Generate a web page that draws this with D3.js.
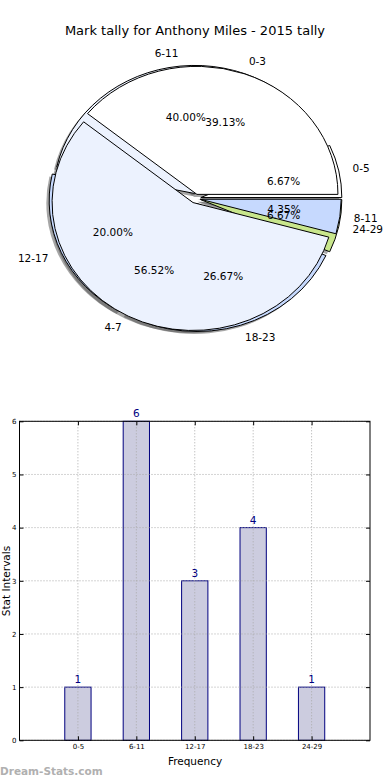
<!DOCTYPE html>
<html><head><meta charset="utf-8">
<script src="https://cdn.jsdelivr.net/npm/d3@7"></script>
<style>
html,body{margin:0;padding:0;background:#fff;}
svg{display:block;font-family:"DejaVu Sans",sans-serif;}
</style></head>
<body>
<svg id="chart" width="390" height="780"></svg>
<script>
// ---- data ----
const title = "Mark tally for Anthony Miles - 2015 tally";
const statCategories = ["0-5", "6-11", "12-17", "18-23", "24-29"];
const statCounts = [1, 6, 3, 4, 1];
const statColors = ["#ffffff", "#ecf2fe", "#c6d9fe", "#c6d9fe", "#c8e68c"];
const markCategories = ["0-3", "4-7", "8-11"];
const markCounts = [9, 13, 1];
const markColors = ["#ffffff", "#ecf2fe", "#c6d9fe"];
const yTicks = [0, 1, 2, 3, 4, 5, 6];

const svg = d3.select("#chart");

svg.append("text").attr("x", 195).attr("y", 35).attr("text-anchor", "middle")
  .attr("font-size", 13).text(title);

// ---- pies ----
const cx = 195.3, cy = 198.6, rx = 141, ry = 128;
const pieGen = d3.pie().sort(null).startAngle(Math.PI / 2).endAngle(Math.PI / 2 - 2 * Math.PI);
const arc = d3.arc().innerRadius(0).outerRadius(1);

function buildPie(cats, vals, cols, explode) {
  const arcs = pieGen(vals);
  const total = d3.sum(vals);
  return arcs.map((a, i) => {
    const s = Math.min(a.startAngle, a.endAngle), e = Math.max(a.startAngle, a.endAngle);
    const mid = (s + e) / 2;
    const ox = explode * Math.sin(mid), oy = -explode * Math.cos(mid);
    return {cat: cats[i], val: vals[i], col: cols[i], s, e, mid, ox, oy, pct: (100 * vals[i] / total).toFixed(2) + "%"};
  });
}
const pie1 = buildPie(statCategories, statCounts, statColors, 0.04);
const pie2 = buildPie(markCategories, markCounts, markColors, 0.035);

const pg = svg.append("g").attr("transform", `translate(${cx},${cy}) scale(${rx},${ry})`);
// shadows first (lower zorder)
[pie1, pie2].forEach(p => {
  pg.selectAll(null).data(p).enter().append("path")
    .attr("d", d => arc({startAngle: d.s, endAngle: d.e}))
    .attr("transform", d => `translate(${d.ox - 0.02},${d.oy + 0.02})`)
    .attr("fill", "rgb(77,77,77)").attr("fill-opacity", 0.5);
});
[pie1, pie2].forEach(p => {
  pg.selectAll(null).data(p).enter().append("path")
    .attr("d", d => arc({startAngle: d.s, endAngle: d.e}))
    .attr("transform", d => `translate(${d.ox},${d.oy})`)
    .attr("fill", d => d.col).attr("stroke", "#000").attr("stroke-width", 1)
    .attr("stroke-linejoin", "miter")
    .attr("vector-effect", "non-scaling-stroke");
});
// texts
[pie1, pie2].forEach(p => {
  p.forEach(d => {
    const ux = Math.sin(d.mid), uy = -Math.cos(d.mid);
    const lx = cx + rx * (d.ox + 1.1 * ux), ly = cy + ry * (d.oy + 1.1 * uy);
    svg.append("text").attr("x", lx).attr("y", ly).attr("dy", "0.35em")
      .attr("text-anchor", ux > 0 ? "start" : "end").attr("font-size", 10.5).text(d.cat);
    const px = cx + rx * (d.ox + 0.6 * ux), py = cy + ry * (d.oy + 0.6 * uy);
    svg.append("text").attr("x", px).attr("y", py).attr("dy", "0.35em")
      .attr("text-anchor", "middle").attr("font-size", 10.5).text(d.pct);
  });
});

// ---- bar chart ----
const L = 19.5, R = 370, T = 421.3, B = 740.3;
const x = d3.scaleLinear().domain([-1, 5]).range([L, R]);
const y = d3.scaleLinear().domain([0, 6]).range([B, T]);
const bw = 0.45;
const bg = svg.append("g");

bg.selectAll(null).data(statCounts).enter().append("rect")
  .attr("x", (d, i) => x(i - bw / 2)).attr("width", x(bw) - x(0))
  .attr("y", d => y(d)).attr("height", d => B - y(d))
  .attr("fill", "#ccccdf").attr("stroke", "#00007f").attr("stroke-width", 1);

// grid
bg.selectAll(null).data(yTicks).enter().append("line")
  .attr("x1", L).attr("x2", R).attr("y1", d => y(d)).attr("y2", d => y(d))
  .attr("stroke", "#aaa").attr("stroke-dasharray", "1,2");
bg.selectAll(null).data(statCategories).enter().append("line")
  .attr("x1", (d, i) => x(i)).attr("x2", (d, i) => x(i)).attr("y1", T).attr("y2", B)
  .attr("stroke", "#aaa").attr("stroke-dasharray", "1,2");

// axes
const yAxisL = d3.axisLeft(y).tickValues(yTicks).tickFormat(d3.format("d")).tickSizeInner(-4).tickSizeOuter(0).tickPadding(3);
const yAxisR = d3.axisRight(y).tickValues(yTicks).tickSizeInner(-4).tickSizeOuter(0).tickFormat("");
const xAxisB = d3.axisBottom(x).tickValues(d3.range(statCategories.length)).tickFormat(i => statCategories[i]).tickSizeInner(-4).tickSizeOuter(0).tickPadding(4);
const xAxisT = d3.axisTop(x).tickValues(d3.range(statCategories.length)).tickFormat("").tickSizeInner(-4).tickSizeOuter(0);
function styleAx(g) {
  g.select(".domain").remove();
  g.selectAll("text").attr("font-size", 7).attr("fill", "#000").attr("font-family", "DejaVu Sans");
  g.selectAll("line").attr("stroke", "#000");
}
bg.append("g").attr("transform", `translate(${L},0)`).call(yAxisL).call(styleAx);
bg.append("g").attr("transform", `translate(${R},0)`).call(yAxisR).call(styleAx);
bg.append("g").attr("transform", `translate(0,${B})`).call(xAxisB).call(styleAx);
bg.append("g").attr("transform", `translate(0,${T})`).call(xAxisT).call(styleAx);
bg.append("rect").attr("x", L).attr("y", T).attr("width", R - L).attr("height", B - T)
  .attr("fill", "none").attr("stroke", "#000").attr("stroke-width", 1);

// value labels
bg.selectAll(null).data(statCounts).enter().append("text")
  .attr("x", (d, i) => x(i)).attr("y", d => y(d) - 4)
  .attr("text-anchor", "middle").attr("font-size", 10.5).attr("fill", "#00007f").text(d => d);

svg.append("text").attr("x", 195).attr("y", 765).attr("text-anchor", "middle").attr("font-size", 10.5).text("Frequency");
svg.append("text").attr("transform", "translate(9.5,581) rotate(-90)").attr("text-anchor", "middle")
  .attr("font-size", 10.5).text("Stat Intervals");
svg.append("text").attr("x", 0).attr("y", 775).attr("font-size", 10.5).attr("font-weight", "bold")
  .attr("fill", "#b0b0b0").text("Dream-Stats.com");
</script>
</body></html>
